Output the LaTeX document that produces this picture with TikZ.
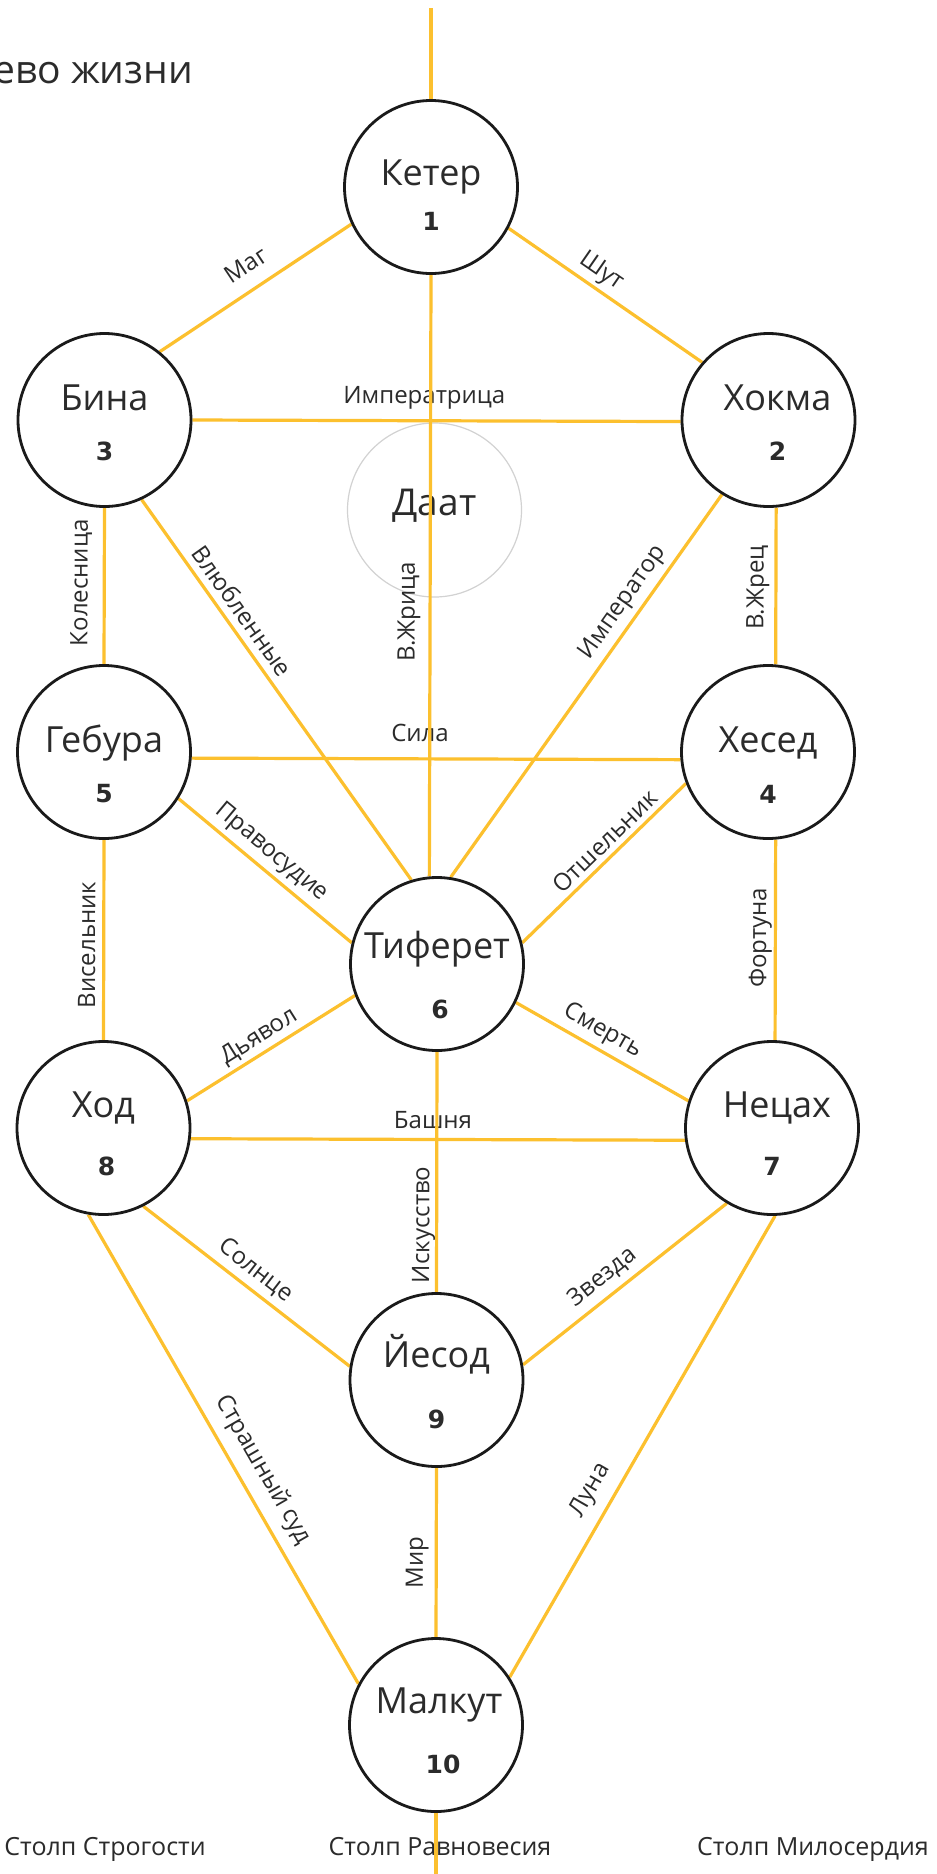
\documentclass[tikz,border=0pt]{standalone}
\usepackage{fontspec}
\setmainfont{Open Sans}
\newfontfamily\numfont{DejaVu Sans}
\definecolor{pathc}{RGB}{252,192,46}
\definecolor{ink}{HTML}{1A1A1A}
\definecolor{txt}{HTML}{2B2B2B}
\definecolor{daatc}{HTML}{D2D2D2}
\pgfdeclarelayer{bg}
\pgfsetlayers{bg,main}
\begin{document}
\begin{tikzpicture}[x=1pt,y=-1pt,
  seph/.style={circle,draw=ink,line width=2.8pt,fill=white,minimum size=173pt,inner sep=0pt},
  daat/.style={circle,draw=daatc,line width=1.2pt,minimum size=174pt,inner sep=0pt},
  sname/.style={font=\fontsize{36}{36}\selectfont,text=txt,anchor=base,inner sep=0pt},
  snum/.style={font=\numfont\bfseries\fontsize{25}{25}\selectfont,text=txt,anchor=base,inner sep=0pt},
  conn/.style={draw=pathc,line width=3.2pt},
  lab/.style={sloped,font=\fontsize{24}{24}\selectfont,text=txt,inner sep=0pt,anchor=center},
  pillar/.style={font=\fontsize{25}{25}\selectfont,text=txt,anchor=base,inner sep=0pt},
  title/.style={font=\fontsize{39}{39}\selectfont,text=txt,anchor=base east,inner sep=0pt}]
\useasboundingbox (0,0) rectangle (937,1874);
\clip (0,0) rectangle (937,1874);

% title
\node[title] (title) at (193,83) {Древо жизни};

% sephirot
\node[seph] (keter) at (431,187) {};
\node[sname] (keter-name) at ([yshift=2pt]keter.center) {Кетер};
\node[snum] (keter-num) at ([yshift=-43pt]keter.center) {1};

\node[seph] (hokma) at (768.5,420) {};
\node[sname] (hokma-name) at ([xshift=9pt,yshift=10pt]hokma.center) {Хокма};
\node[snum] (hokma-num) at ([xshift=9pt,yshift=-40pt]hokma.center) {2};

\node[seph] (bina) at (104.5,420) {};
\node[sname] (bina-name) at ([yshift=10pt]bina.center) {Бина};
\node[snum] (bina-num) at ([yshift=-40pt]bina.center) {3};

\node[seph] (hesed) at (768,752) {};
\node[sname] (hesed-name) at ([yshift=0pt]hesed.center) {Хесед};
\node[snum] (hesed-num) at ([yshift=-51pt]hesed.center) {4};

\node[seph] (gebura) at (104,752) {};
\node[sname] (gebura-name) at ([yshift=0pt]gebura.center) {Гебура};
\node[snum] (gebura-num) at ([yshift=-50pt]gebura.center) {5};

\node[seph] (tiferet) at (437,964) {};
\node[sname] (tiferet-name) at ([yshift=6pt]tiferet.center) {Тиферет};
\node[snum] (tiferet-num) at ([xshift=3pt,yshift=-54pt]tiferet.center) {6};

\node[seph] (netzach) at (772,1128) {};
\node[sname] (netzach-name) at ([xshift=5pt,yshift=11pt]netzach.center) {Нецах};
\node[snum] (netzach-num) at ([yshift=-47pt]netzach.center) {7};

\node[seph] (hod) at (103.5,1128) {};
\node[sname] (hod-name) at ([yshift=11pt]hod.center) {Ход};
\node[snum] (hod-num) at ([xshift=3pt,yshift=-47pt]hod.center) {8};

\node[seph] (yesod) at (436.5,1380) {};
\node[sname] (yesod-name) at ([yshift=13pt]yesod.center) {Йесод};
\node[snum] (yesod-num) at ([yshift=-48pt]yesod.center) {9};

\node[seph] (malkut) at (436,1725) {};
\node[sname] (malkut-name) at ([xshift=3pt,yshift=12pt]malkut.center) {Малкут};
\node[snum] (malkut-num) at ([xshift=7pt,yshift=-48pt]malkut.center) {10};

\coordinate (top) at (431,8);
\coordinate (bot) at (436,1874);

\begin{pgfonlayer}{bg}
\fill[white] (0,0) rectangle (937,1874);
% Daat
\node[daat] (daat) at (434.5,510) {};
\node[sname,font=\fontsize{37}{37}\selectfont] (daat-name) at ([yshift=-5pt]daat.center) {Даат};
% pillars
\node[pillar] (p-left) at (105,1855) {Столп Строгости};
\node[pillar] (p-mid) at (440,1855) {Столп Равновесия};
\node[pillar] (p-right) at (813,1855) {Столп Милосердия};

% paths
\draw[conn] (bina.51) -- node[lab,pos=.52,yshift=24pt] (l-mag) {Маг} (keter.205);
\draw[conn] (keter.332) -- node[lab,pos=.43,yshift=17pt] (l-shut) {Шут} (hokma.139);
\draw[conn] (bina.east) -- node[lab,pos=.475,yshift=23pt] (l-imperatrica) {Императрица} (hokma.181);
\draw[conn] (gebura.north) -- node[lab,pos=.52,yshift=23pt] (l-kolesnica) {Колесница} (bina.south);
\draw[conn] (bina.295) -- node[lab,pos=.32,yshift=18pt] (l-vlyub) {Влюбленные} (tiferet.107);
\draw[conn] (tiferet.81) -- node[lab,pos=.69,yshift=18pt] (l-imperator) {Император} (hokma.238);
\draw[conn] (hesed.85) -- node[lab,pos=.49,yshift=18pt] (l-zhrec) {В.Жрец} (hokma.275);
\draw[conn] (gebura.356) -- node[lab,pos=.467,yshift=26pt] (l-sila) {Сила} (hesed.185);
\draw[conn] (gebura.328) -- node[lab,pos=.47,yshift=18pt] (l-pravosudie) {Правосудие} (tiferet.166);
\draw[conn] (tiferet.14) -- node[lab,pos=.57,yshift=15pt] (l-otshelnik) {Отшельник} (hesed.201);
\draw[conn] (hod.north) -- node[lab,pos=.475,yshift=17pt] (l-viselnik) {Висельник} (gebura.south);
\draw[conn] (netzach.88) -- node[lab,pos=.51,yshift=15pt] (l-fortuna) {Фортуна} (hesed.275);
\draw[conn] (hod.18) -- node[lab,pos=.48,yshift=16pt] (l-dyavol) {Дьявол} (tiferet.201);
\draw[conn] (tiferet.334) -- node[lab,pos=.45,yshift=18pt] (l-smert) {Смерть} (netzach.162);
\draw[conn] (hod.353) -- node[lab,pos=.49,yshift=19pt] (l-bashnya) {Башня} (netzach.188);
\draw[conn] (hod.297) -- node[lab,pos=.49,yshift=18pt] (l-solnce) {Солнце} (yesod.171);
\draw[conn] (yesod.10) -- node[lab,pos=.45,yshift=19pt] (l-zvezda) {Звезда} (netzach.239);
\draw[conn] (hod.260) -- node[lab,pos=.57,yshift=24pt] (l-sud) {Страшный суд} (malkut.152);
\draw[conn] (malkut.33) -- node[lab,pos=.38,yshift=23pt] (l-luna) {Луна} (netzach.272);
% central pillar
\draw[conn] (top) -- (keter.north);
\draw[conn] (tiferet.95) -- node[lab,pos=.44,yshift=21pt] (l-zhrica) {В.Жрица} (keter.south);
\draw[conn] (yesod.north) -- node[lab,pos=.28,yshift=13pt] (l-iskusstvo) {Искусство} (tiferet.south);
\draw[conn] (malkut.north) -- node[lab,pos=.44,yshift=19pt] (l-mir) {Мир} (yesod.south);
\draw[conn] (malkut.south) -- (bot);
\end{pgfonlayer}
\end{tikzpicture}
\end{document}
